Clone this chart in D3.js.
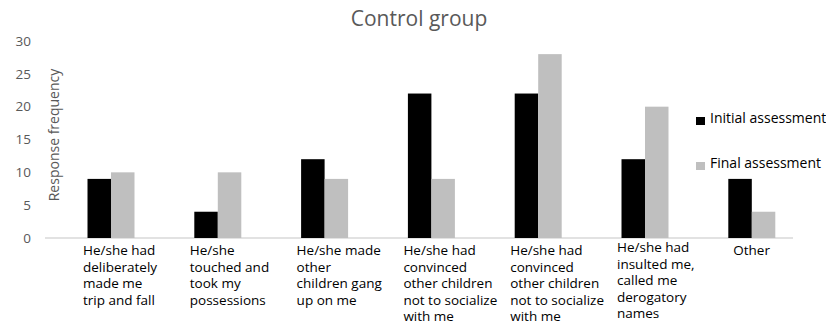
<!DOCTYPE html>
<html>
<head>
<meta charset="utf-8">
<script src="https://cdn.jsdelivr.net/npm/d3@7"></script>
<style>
  html, body { margin: 0; padding: 0; background: #fff; }
  svg { display: block; font-family: "Open Sans", sans-serif; }
</style>
</head>
<body>
<svg id="chart" width="826" height="324"></svg>
<script>
const categories = [
  ["He/she had", "deliberately", "made me", "trip and fall"],
  ["He/she", "touched and", "took my", "possessions"],
  ["He/she made", "other", "children gang", "up on me"],
  ["He/she had", "convinced", "other children", "not to socialize", "with me"],
  ["He/she had", "convinced", "other children", "not to socialize", "with me "],
  ["He/she had", "insulted me,", "called me", "derogatory", "names"],
  ["Other"]
];
const initialAssessment = [9, 4, 12, 22, 22, 12, 9];
const finalAssessment = [10, 10, 9, 9, 28, 20, 4];
const seriesNames = ["Initial assessment", "Final assessment"];
const yTicks = [0, 5, 10, 15, 20, 25, 30];
const title = "Control group";
const yTitle = "Response frequency";

const colors = ["#000000", "#bfbfbf"];
const svg = d3.select("#chart");
const keys = categories.map(c => c.join(" "));

const x = d3.scaleBand().domain(keys).range([57.6, 805.2]).paddingInner(0.56).paddingOuter(0.28);
const x1 = d3.scaleBand().domain([0, 1]).range([0, x.bandwidth()]);
const y = d3.scaleLinear().domain([0, 30]).range([238, 41]);

// title
svg.append("text").attr("x", 419).attr("y", 26).attr("text-anchor", "middle")
  .attr("font-size", 21).attr("fill", "#595959").text(title);

// y axis title
svg.append("text").attr("transform", "translate(59,135) rotate(-90)")
  .attr("text-anchor", "middle").attr("font-size", 14).attr("fill", "#595959").text(yTitle);

// y axis tick labels
const yAxis = d3.axisLeft(y).tickValues(yTicks).tickSize(0).tickPadding(0);
const gy = svg.append("g").attr("transform", "translate(31,0)").call(yAxis);
gy.select(".domain").remove();
gy.selectAll("text").attr("font-size", 13.5).attr("fill", "#595959")
  .attr("font-family", "Open Sans, sans-serif");

// baseline
svg.append("line").attr("x1", 45).attr("x2", 793).attr("y1", y(0)).attr("y2", y(0))
  .attr("stroke", "#d9d9d9").attr("stroke-width", 1.5);

// bars
const series = [initialAssessment, finalAssessment];
series.forEach((vals, s) => {
  svg.append("g").selectAll("rect").data(vals).join("rect")
    .attr("x", (d, i) => x(keys[i]) + x1(s))
    .attr("y", d => y(d))
    .attr("width", x1.bandwidth())
    .attr("height", d => y(0) - y(d))
    .attr("fill", colors[s]);
});

// category labels
const lab = svg.append("g");
categories.forEach((lines, i) => {
  const cx = x(keys[i]) + x.bandwidth() / 2;
  const t = lab.append("text").attr("font-size", 13.5).attr("fill", "#000");
  lines.forEach((ln, j) => {
    t.append("tspan").attr("x", 0).attr("y", 255 + j * 16.5).text(ln.trim());
  });
  const w = t.node().getBBox().width;
  const off = Math.min(28, w / 2);
  t.attr("transform", `translate(${cx - off},${lines.length === 5 && i === 5 ? -3 : 0})`);
});

// legend
const legendY = [117, 162];
seriesNames.forEach((name, s) => {
  svg.append("rect").attr("x", 696).attr("y", legendY[s]).attr("width", 9).attr("height", 8)
    .attr("fill", colors[s]);
  svg.append("text").attr("x", 710).attr("y", legendY[s] + 6).attr("font-size", 14)
    .attr("fill", "#000").text(name);
});
</script>
</body>
</html>
